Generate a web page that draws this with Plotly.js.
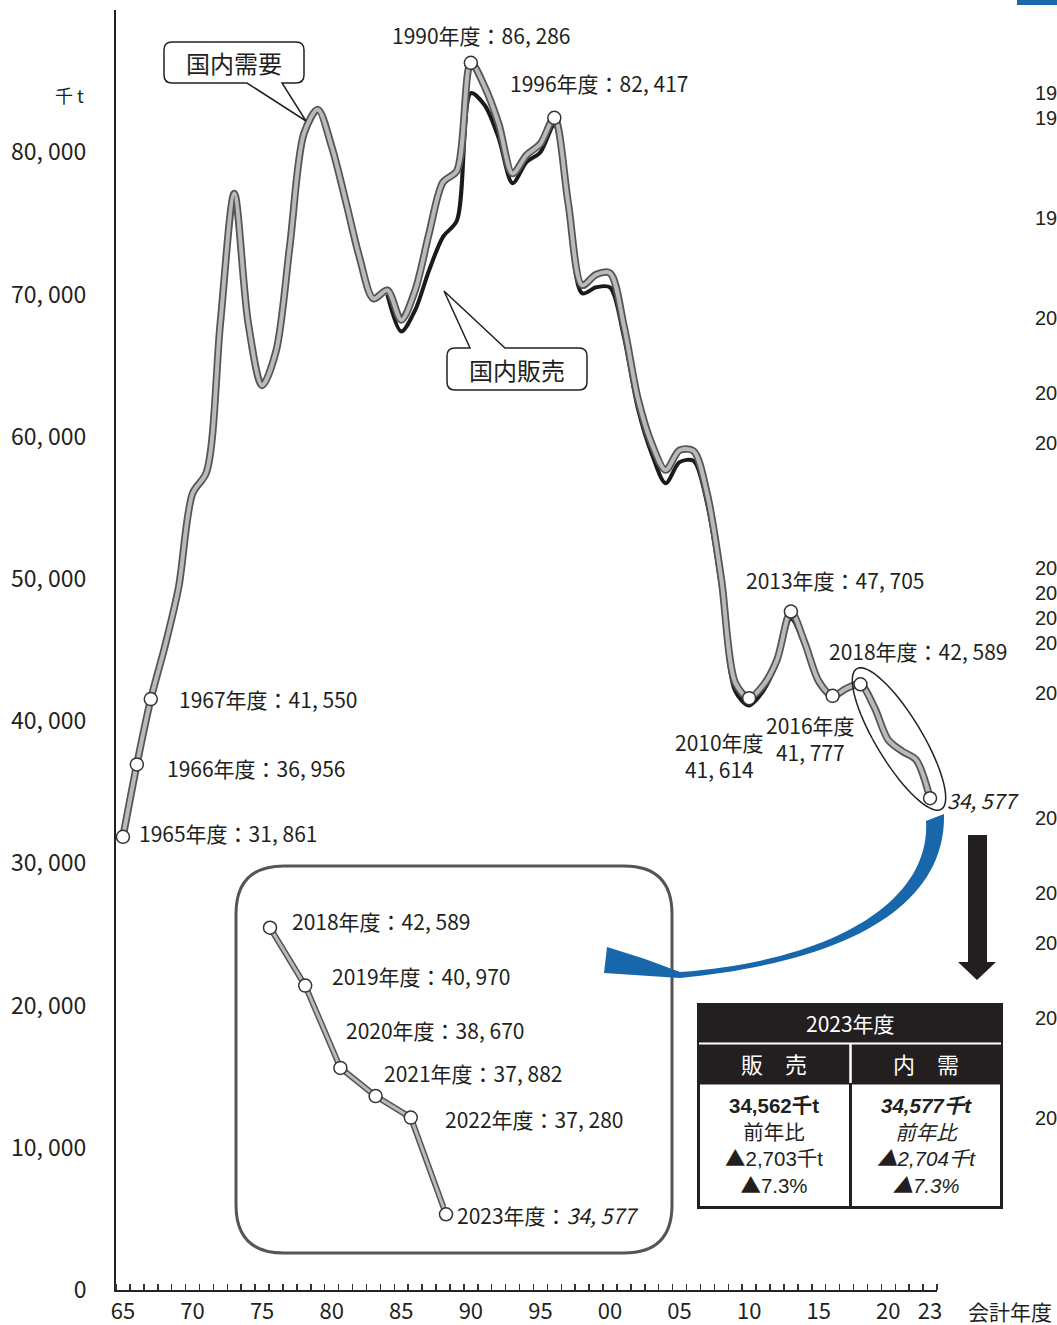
<!DOCTYPE html>
<html><head><meta charset="utf-8">
<script src="https://cdn.plot.ly/plotly-3.0.1.min.js"></script>
<style>html,body{margin:0;padding:0;background:#fff;}#chart{width:1057px;height:1325px;}</style>
</head><body><div id="chart"></div>
<script>
// ---- data (千t) ----
const years = [1965,1966,1967,1968,1969,1970,1971,1972,1973,1974,1975,1976,1977,1978,1979,1980,1981,1982,1983,1984,1985,1986,1987,1988,1989,1990,1991,1992,1993,1994,1995,1996,1997,1998,1999,2000,2001,2002,2003,2004,2005,2006,2007,2008,2009,2010,2011,2012,2013,2014,2015,2016,2017,2018,2019,2020,2021,2022,2023];
const demand = [31861,36956,41550,45200,49400,56000,57500,68000,77100,68000,63600,66000,73500,81300,83000,80400,76600,72600,69700,70300,68200,70300,74300,77900,78700,86286,84600,82000,78500,79800,80600,82417,76400,70650,71400,71500,67800,62700,59500,57650,59050,59000,55900,50000,42700,41614,42500,44300,47705,45500,42800,41777,42300,42589,40970,38670,37882,37280,34577];
const salesYears = [1984,1985,1986,1987,1988,1989,1990,1991,1992,1993,1994,1995,1996,1997,1998,1999,2000,2001,2002,2003,2004,2005,2006,2007,2008,2009,2010,2011,2012,2013,2014,2015,2016,2017,2018,2019,2020,2021,2022,2023];
const sales = [70000,67400,68900,71700,74050,75200,84150,83300,81000,77820,79300,80000,81900,75900,70080,70500,70500,67000,62000,58800,56730,58210,58300,55200,49300,42100,41100,42100,44100,47200,45300,42600,41700,42200,42500,40900,38600,37800,37265,34562];
const markedYears = [1965,1966,1967,1990,1996,2010,2013,2016,2018,2023];
const insetYears = [2018,2019,2020,2021,2022,2023];
const xTickVals = [1965,1970,1975,1980,1985,1990,1995,2000,2005,2010,2015,2020,2023];
const xTickText = ['65','70','75','80','85','90','95','00','05','10','15','20','23'];
const yTickVals = [0,10000,20000,30000,40000,50000,60000,70000,80000];
const yTickText = ['0','10, 000','20, 000','30, 000','40, 000','50, 000','60, 000','70, 000','80, 000'];
const TRI = '<span style="font-family:\'Noto Sans CJK JP\'">▲</span>';
const table = {
  title: '2023年度', colL: '販　売', colR: '内　需',
  left: ['<b>34,562千t</b>','前年比', TRI + '2,703千t', TRI + '7.3%'],
  right: ['<b><i>34,577千t</i></b>','<i>前年比</i>','<i>' + TRI + '2,704千t</i>','<i>' + TRI + '7.3%</i>']
};
const sideLabels = ['19','19','19','20','20','20','20','20','20','20','20','20','20','20','20','20'];

// ---- helpers ----
const val = y => demand[years.indexOf(y)];
const fmt = v => String(v).replace(/\B(?=(\d{3})+(?!\d))/g, ', ');
const L = 116, W = 821, T = 10, H = 1280;
const fx = px => (px - L) / W;
const fy = py => (T + H - py) / H;
const P = (x, y) => fx(x).toFixed(5) + ',' + fy(y).toFixed(5);
const NUM = '"Noto Sans CJK JP", sans-serif';
const JP = '"Noto Sans CJK JP", sans-serif';
const TBL = '"Liberation Sans", "Noto Sans CJK JP", sans-serif';
const TXT = '#231f20';

const gOuter = '#555555', gInner = '#bababa';
const SM = 0.85;
const traces = [
  {x: salesYears, y: sales, mode: 'lines', line: {color: '#1a1a1a', width: 4, shape: 'spline', smoothing: SM}, hoverinfo: 'skip', cliponaxis: false},
  {x: years, y: demand, mode: 'lines', line: {color: gOuter, width: 7.5, shape: 'spline', smoothing: SM}, hoverinfo: 'skip', cliponaxis: false},
  {x: years, y: demand, mode: 'lines', line: {color: gInner, width: 4, shape: 'spline', smoothing: SM}, hoverinfo: 'skip', cliponaxis: false},
  {x: markedYears, y: markedYears.map(val), mode: 'markers', marker: {size: 13, color: '#fff', line: {color: '#333', width: 1.5}}, cliponaxis: false},
  {x: insetYears, y: insetYears.map(val), xaxis: 'x2', yaxis: 'y2', mode: 'lines', line: {color: gOuter, width: 6}, cliponaxis: false},
  {x: insetYears, y: insetYears.map(val), xaxis: 'x2', yaxis: 'y2', mode: 'lines', line: {color: gInner, width: 3}, cliponaxis: false},
  {x: insetYears, y: insetYears.map(val), xaxis: 'x2', yaxis: 'y2', mode: 'markers', marker: {size: 13, color: '#fff', line: {color: '#333', width: 1.5}}, cliponaxis: false}
];

const ann = [];
const labFont = {family: NUM, size: 21, color: TXT};
function lab(year, text, xanchor, xs, ys, axis) {
  ann.push({x: year, y: val(year), xref: axis ? 'x2' : 'x', yref: axis ? 'y2' : 'y', text: text, showarrow: false,
    xanchor: xanchor, yanchor: 'middle', xshift: xs, yshift: ys, font: labFont, align: 'center'});
}
const lt = y => y + '年度：' + fmt(val(y));
lab(1990, lt(1990), 'center', 10, 28);
lab(1996, lt(1996), 'center', 45, 35);
lab(1967, lt(1967), 'left', 26, 0);
lab(1966, lt(1966), 'left', 28, -4);
lab(1965, lt(1965), 'left', 14, 4);
lab(2013, lt(2013), 'center', 44, 32);
lab(2018, lt(2018), 'center', 58, 33);
lab(2010, '2010年度<br>' + fmt(val(2010)), 'center', -30, -57);
lab(2016, '2016年度<br>' + fmt(val(2016)), 'center', -22, -43);
lab(2023, '<i>' + fmt(val(2023)) + '</i>', 'left', 15, -2);
// inset labels
lab(2018, lt(2018), 'left', 20, 7, true);
lab(2019, lt(2019), 'left', 25, 10, true);
lab(2020, lt(2020), 'left', 4, 38, true);
lab(2021, lt(2021), 'left', 6, 23, true);
lab(2022, lt(2022), 'left', 32, -1, true);
lab(2023, '2023年度：<i>' + fmt(val(2023)) + '</i>', 'left', 9, -1, true);

function pann(x, y, text, font, xanchor) {
  ann.push({x: fx(x), y: fy(y), xref: 'paper', yref: 'paper', text: text, showarrow: false,
    xanchor: xanchor || 'center', yanchor: 'middle', font: font});
}
pann(234, 63, '国内需要', {family: JP, size: 24, color: TXT});
pann(517, 369, '国内販売', {family: JP, size: 24, color: TXT});
pann(86, 95, '千 t', {family: JP, size: 18, color: TXT}, 'right');
pann(1010, 1312, '会計年度', {family: TBL, size: 21, color: TXT});
// table texts
pann(850, 1023, table.title, {family: JP, size: 21, color: '#fff'});
pann(774, 1063, table.colL, {family: JP, size: 22, color: '#fff'});
pann(926, 1063, table.colR, {family: JP, size: 22, color: '#fff'});
pann(774, 1146, table.left.join('<br>'), {family: TBL, size: 20.5, color: TXT});
pann(926, 1146, table.right.join('<br>'), {family: TBL, size: 20.5, color: TXT});
// cut-off labels of the neighbouring chart
const sideY = [93,118,218,318,393,443,568,593,618,643,693,818,893,943,1018,1118];
sideLabels.forEach((t, i) => pann(1033, sideY[i], t, {family: '"Liberation Sans", sans-serif', size: 20, color: TXT}, 'left'));

// ---- shapes ----
const shapes = [];
function path(d, fill, line, w) {
  shapes.push({type: 'path', xref: 'paper', yref: 'paper', path: d, fillcolor: fill || 'rgba(0,0,0,0)',
    line: {color: line || 'rgba(0,0,0,0)', width: w || 0}, layer: 'above'});
}
function rrect(x0, y0, x1, y1, r) {
  return 'M' + P(x0 + r, y0) + ' L' + P(x1 - r, y0) + ' Q' + P(x1, y0) + ' ' + P(x1, y0 + r) +
    ' L' + P(x1, y1 - r) + ' Q' + P(x1, y1) + ' ' + P(x1 - r, y1) + ' L' + P(x0 + r, y1) +
    ' Q' + P(x0, y1) + ' ' + P(x0, y1 - r) + ' L' + P(x0, y0 + r) + ' Q' + P(x0, y0) + ' ' + P(x0 + r, y0) + ' Z';
}
// callout 国内需要
path('M' + P(172, 42) + ' L' + P(296, 42) + ' Q' + P(304, 42) + ' ' + P(304, 50) + ' L' + P(304, 75) +
  ' Q' + P(304, 83) + ' ' + P(296, 83) + ' L' + P(282, 83) + ' L' + P(306, 121) + ' L' + P(247, 83) +
  ' L' + P(172, 83) + ' Q' + P(164, 83) + ' ' + P(164, 75) + ' L' + P(164, 50) + ' Q' + P(164, 42) + ' ' + P(172, 42) + ' Z',
  '#fff', '#222', 1.5);
// callout 国内販売
path('M' + P(455, 348) + ' L' + P(470, 348) + ' L' + P(444, 291) + ' L' + P(505, 348) + ' L' + P(579, 348) +
  ' Q' + P(587, 348) + ' ' + P(587, 356) + ' L' + P(587, 382) + ' Q' + P(587, 390) + ' ' + P(579, 390) +
  ' L' + P(455, 390) + ' Q' + P(447, 390) + ' ' + P(447, 382) + ' L' + P(447, 356) + ' Q' + P(447, 348) + ' ' + P(455, 348) + ' Z',
  '#fff', '#222', 1.5);
// ellipse around 2018-2023
(function () {
  const cx = 899, cy = 739, a = 82, b = 23, th = Math.atan2(136, 82);
  let d = '';
  for (let i = 0; i <= 72; i++) {
    const t = i / 72 * 2 * Math.PI;
    const ex = a * Math.cos(t), ey = b * Math.sin(t);
    const x = cx + ex * Math.cos(th) - ey * Math.sin(th);
    const y = cy + ex * Math.sin(th) + ey * Math.cos(th);
    d += (i ? ' L' : 'M') + P(x, y);
  }
  path(d + ' Z', null, '#222', 1.5);
})();
// inset frame
path(rrect(236, 866, 672, 1253, 48), null, '#555', 3);
// blue curved arrow
path('M' + P(944, 814) + ' C' + P(946, 900) + ' ' + P(860, 960) + ' ' + P(680, 978) +
  ' L' + P(604, 973) + ' L' + P(607, 947) + ' L' + P(645, 959) + ' L' + P(680, 972) +
  ' C' + P(840, 960) + ' ' + P(931, 898) + ' ' + P(926, 821) + ' Z', '#1767aa', null, 0);
// black down arrow
path('M' + P(968, 835) + ' L' + P(987, 835) + ' L' + P(987, 962) + ' L' + P(996, 962) + ' L' + P(977, 980) +
  ' L' + P(958, 962) + ' L' + P(968, 962) + ' Z', '#231f20', null, 0);
// table
path('M' + P(697, 1003) + ' L' + P(1003, 1003) + ' L' + P(1003, 1084) + ' L' + P(697, 1084) + ' Z', '#231f20', null, 0);
path('M' + P(698.5, 1083) + ' L' + P(1001.5, 1083) + ' L' + P(1001.5, 1207.5) + ' L' + P(698.5, 1207.5) + ' Z', '#fff', '#231f20', 3);
path('M' + P(699, 1043.5) + ' L' + P(1001, 1043.5), null, '#fff', 2);
path('M' + P(850.5, 1044) + ' L' + P(850.5, 1083), null, '#fff', 2.5);
path('M' + P(850.5, 1083) + ' L' + P(850.5, 1207), null, '#231f20', 3);
// blue tab top right
path('M' + P(1017, 0) + ' L' + P(1057, 0) + ' L' + P(1057, 5) + ' L' + P(1017, 5) + ' Z', '#1a69ad', null, 0);

// inset axes derived from the inset data
const insetVals = insetYears.map(val);
const layout = {
  width: 1057, height: 1325,
  margin: {l: L, r: 1057 - L - W, t: T, b: 1325 - T - H},
  paper_bgcolor: '#fff', plot_bgcolor: 'rgba(0,0,0,0)', showlegend: false,
  font: {family: NUM, color: TXT},
  xaxis: {range: [1964.5, 2023.5], showgrid: false, zeroline: false, showline: true, linecolor: '#222', linewidth: 2,
    tickmode: 'array', tickvals: xTickVals, ticktext: xTickText, ticks: '', ticklabelstandoff: 1,
    tickfont: {family: NUM, size: 22, color: TXT},
    minor: {ticks: 'inside', ticklen: 6, tickwidth: 1.5, tickcolor: '#333', tick0: 1964.5, dtick: 1, showgrid: false},
    fixedrange: true},
  yaxis: {range: [0, 90000], showgrid: false, zeroline: false, showline: true, linecolor: '#222', linewidth: 2,
    tickmode: 'array', tickvals: yTickVals, ticktext: yTickText, ticks: '', ticklabelstandoff: 23,
    tickfont: {family: NUM, size: 23, color: TXT}, fixedrange: true},
  xaxis2: {domain: [fx(270), fx(446)], range: [insetYears[0], insetYears[insetYears.length - 1]], anchor: 'y2', visible: false, fixedrange: true},
  yaxis2: {domain: [fy(1214.3), fy(927.7)], range: [Math.min(...insetVals), Math.max(...insetVals)], anchor: 'x2', visible: false, fixedrange: true},
  annotations: ann,
  shapes: shapes
};
Plotly.newPlot('chart', traces, layout, {staticPlot: true, displayModeBar: false});
</script>
</body></html>
